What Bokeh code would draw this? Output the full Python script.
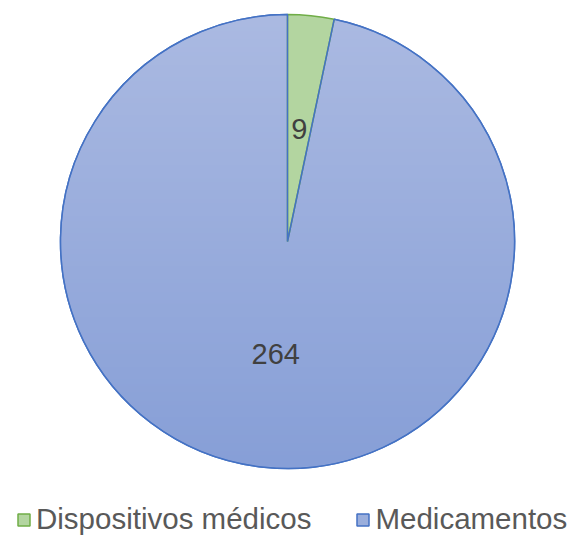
import numpy as np
from bokeh.plotting import figure
from bokeh.models import Legend, LegendItem, Range1d
from bokeh.core.properties import value
from bokeh.embed import file_html
from bokeh.resources import INLINE

categories = ["Dispositivos médicos", "Medicamentos"]
values = [9, 264]
fill_colors = ["#B3D5A0", "#9AAEDC"]
line_colors = ["#70AD47", "#4472C4"]

W, H = 571, 536
p = figure(width=W, height=H, output_backend="svg", toolbar_location=None,
           x_range=Range1d(0, W), y_range=Range1d(0, H), min_border=0)
p.axis.visible = False
p.grid.visible = False
p.outline_line_color = None
p.background_fill_color = "white"

cx, cy, R = 287, H - 241, 227

total = sum(values)
angles = np.array(values) / total * 2 * np.pi
ends = np.pi / 2 - np.cumsum(angles)
starts = np.concatenate([[np.pi / 2], ends[:-1]])

# base wedges (solid, used for legend)
r_blue = p.wedge(x=cx, y=cy, radius=R, start_angle=starts[1], end_angle=ends[1],
                 direction="clock", fill_color=fill_colors[1], line_color=line_colors[1], line_width=1.5)

# gradient disc over the blue wedge
N = 600
yy, xx = np.mgrid[0:N, 0:N]
u = (xx + 0.5) / N * 2 - 1
v = (yy + 0.5) / N * 2 - 1
d = np.sqrt(u * u + v * v)
alpha = np.clip((1 - d) * N / 2, 0, 1)
t = (v + 1) / 2  # 0 bottom, 1 top
top = np.array([0xAB, 0xBA, 0xE2])
bot = np.array([0x87, 0x9F, 0xD7])
rgb = bot[None, None, :] * (1 - t[..., None]) + top[None, None, :] * t[..., None]
img = np.zeros((N, N), dtype=np.uint32)
view = img.view(dtype=np.uint8).reshape((N, N, 4))
view[..., 0] = rgb[..., 0].astype(np.uint8)
view[..., 1] = rgb[..., 1].astype(np.uint8)
view[..., 2] = rgb[..., 2].astype(np.uint8)
view[..., 3] = (alpha * 255).astype(np.uint8)
p.image_rgba(image=[img], x=cx - R, y=cy - R, dw=2 * R, dh=2 * R)

r_green = p.wedge(x=cx, y=cy, radius=R, start_angle=starts[0], end_angle=ends[0],
                  direction="clock", fill_color=fill_colors[0], line_color=line_colors[0], line_width=1.5)
p.wedge(x=cx, y=cy, radius=R, start_angle=starts[1], end_angle=ends[1],
        direction="clock", fill_alpha=0, line_color=line_colors[1], line_width=1.5)

mid = (starts + ends) / 2
lx = cx + 0.5 * R * np.cos(mid)
ly = cy + 0.5 * R * np.sin(mid)
p.text(x=lx, y=ly, text=[str(v_) for v_ in values], text_align="center", text_baseline="middle",
       text_font=value("Liberation Sans"), text_font_size="29px", text_color="#404040")

legend = Legend(items=[LegendItem(label=categories[0], renderers=[r_green]),
                       LegendItem(label=categories[1], renderers=[r_blue])],
                orientation="horizontal", location=(16, 0))
legend.label_text_font = "Liberation Sans"
legend.label_text_font_size = "29.5px"
legend.label_text_color = "#595959"
legend.glyph_width = 15
legend.glyph_height = 15
legend.label_standoff = 5
legend.spacing = 44
legend.padding = 0
legend.margin = 0
legend.border_line_alpha = 0
legend.background_fill_alpha = 0
p.add_layout(legend)

open("out.html", "w").write(file_html(p, INLINE))
